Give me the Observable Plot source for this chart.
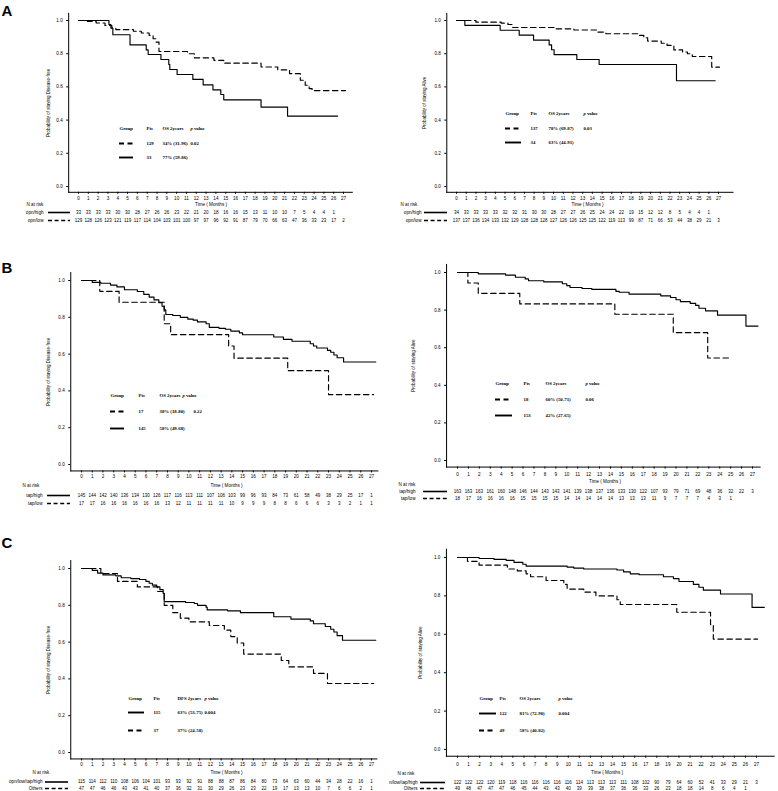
<!DOCTYPE html>
<html><head><meta charset="utf-8">
<script src="https://cdn.jsdelivr.net/npm/d3@7"></script>
<script src="https://cdn.jsdelivr.net/npm/@observablehq/plot@0.6"></script>
<style>
body{margin:0;background:#fff;}
#fig{position:relative;width:778px;height:791px;overflow:hidden;background:#fff;}
.pan{position:absolute;overflow:hidden;}
</style></head><body><div id="fig"></div>
<script>
// ---------- tick labels ----------
const monthTicks = d3.range(0, 28);
const probTicks = [0, 0.2, 0.4, 0.6, 0.8, 1.0];

// ---------- Panel A left (DFS, opn) ----------
const aL_t_high = [0, 3.1, 3.3, 3.5, 5.25, 6.9, 7.1, 8.4, 9.2, 9.3, 10.05, 11.65, 12.7, 13.7, 14.5, 14.8, 18.6, 21.3, 26.4];
const aL_s_high = [1, .976, .954, .914, .853, .823, .795, .765, .735, .705, .675, .645, .612, .582, .554, .522, .478, .424, .424];
const aL_t_low = [0, 0.9, 1.8, 2.7, 3.4, 3.8, 5.6, 6.4, 7.2, 7.6, 7.9, 8.2, 11.1, 11.8, 13.8, 14.8, 18.6, 20.3, 21.5, 22.6, 23.1, 23.5, 23.8, 27.2];
const aL_s_low = [1, .995, .985, .97, .955, .945, .935, .925, .91, .89, .87, .813, .80, .775, .76, .743, .72, .703, .68, .64, .61, .59, .578, .578];
const aL_risk_high = [33,33,33,33,30,30,28,27,26,26,23,22,21,20,18,16,16,15,13,11,10,10,7,5,4,4,1];
const aL_risk_low = [129,128,126,123,121,119,117,114,104,103,101,100,97,97,96,92,91,87,79,70,66,63,47,36,33,23,17,2];

// ---------- Panel A right (OS, opn) ----------
const aR_t_high = [0, 0.86, 4.5, 6.46, 7.94, 9.55, 9.8, 10.06, 12.4, 14.7, 22.67, 26.66];
const aR_s_high = [1, .971, .941, .912, .882, .853, .824, .794, .765, .735, .637, .637];
const aR_t_low = [0, 2.0, 4.6, 5.3, 5.8, 10.1, 12.1, 14.5, 15.4, 18.7, 19.3, 19.7, 21.1, 21.7, 22.4, 23.3, 23.8, 24.3, 26.3, 27.1];
const aR_s_low = [1, .99, .984, .976, .958, .95, .943, .93, .92, .91, .896, .876, .863, .85, .823, .81, .80, .783, .719, .719];
const aR_risk_high = [34,33,33,33,33,32,32,31,30,30,28,27,27,26,25,24,24,22,19,15,12,12,8,5,4,4,1];
const aR_risk_low = [137,137,136,134,133,132,129,128,128,128,127,126,126,125,125,122,119,113,99,87,71,66,53,44,38,29,21,3];

// ---------- Panel B left (DFS, tap) ----------
const bL_t_high = [0, 1.0, 1.8, 2.7, 3.3, 4.0, 5.2, 5.8, 6.3, 6.75, 7.2, 7.5, 7.7, 7.85, 8.5, 9.2, 9.9, 10.4, 10.8, 11.6, 11.9, 12.8, 13.4, 13.9, 14.7, 15.0, 17.9, 18.8, 19.6, 21.3, 21.6, 21.9, 22.9, 23.2, 23.5, 23.8, 24.4, 27.4];
const bL_s_high = [1, .99, .985, .975, .965, .95, .94, .925, .91, .895, .88, .86, .84, .815, .81, .80, .79, .785, .775, .765, .745, .74, .735, .725, .715, .705, .693, .68, .67, .656, .644, .633, .62, .61, .595, .58, .557, .557];
const bL_t_low = [0, 1.7, 3.5, 7.7, 8.3, 13.7, 14.2, 19.2, 23.0, 27.2];
const bL_s_low = [1, .941, .882, .765, .706, .644, .578, .51, .38, .38];
const bL_risk_high = [145,144,142,140,136,134,130,126,117,116,113,111,107,106,103,99,96,93,84,73,61,58,49,38,29,25,17,1];
const bL_risk_low = [17,17,16,16,16,16,16,16,13,12,11,11,11,11,10,9,9,9,8,8,6,6,6,3,3,2,1,1];

// ---------- Panel B right (OS, tap) ----------
const bR_t_high = [0, 1.9, 4.4, 5.3, 6.2, 6.5, 7.9, 9.6, 10.0, 10.3, 11.4, 12.3, 14.5, 14.8, 15.7, 18.6, 19.5, 20.0, 20.4, 21.3, 21.8, 22.1, 22.7, 23.8, 26.4, 27.5];
const bR_s_high = [1, .993, .986, .975, .966, .956, .95, .94, .93, .92, .915, .91, .90, .895, .885, .876, .867, .855, .845, .836, .825, .81, .796, .773, .715, .715];
const bR_t_low = [0, 0.95, 1.9, 5.7, 14.4, 19.75, 22.9, 25.0];
const bR_s_low = [1, .944, .889, .833, .778, .68, .545, .545];
const bR_risk_high = [163,163,163,161,160,148,146,144,143,143,141,139,138,137,136,133,130,122,107,93,79,71,69,48,36,32,22,3];
const bR_risk_low = [18,17,16,16,16,16,15,15,15,15,14,14,14,14,14,13,13,13,11,9,7,7,7,4,3,1];

// ---------- Panel C left (DFS, combined) ----------
const cL_t_high = [0, 1.0, 1.5, 2.0, 3.2, 3.7, 4.6, 5.4, 6.0, 6.3, 6.6, 7.0, 7.3, 7.6, 7.7, 9.7, 10.5, 10.8, 11.6, 11.7, 13.6, 14.8, 17.9, 19.5, 21.3, 21.6, 22.7, 23.2, 23.5, 23.8, 24.3, 27.4];
const cL_s_high = [1, .99, .975, .965, .96, .95, .945, .94, .93, .92, .91, .90, .885, .865, .82, .815, .81, .80, .79, .775, .77, .76, .738, .725, .715, .70, .685, .67, .655, .635, .61, .61];
const cL_t_low = [0, 1.8, 3.35, 5.2, 7.1, 7.7, 8.5, 9.2, 10.0, 11.9, 13.3, 13.9, 14.5, 15.1, 18.6, 19.3, 21.6, 22.9, 27.2];
const cL_s_low = [1, .973, .93, .90, .875, .80, .76, .73, .71, .69, .665, .63, .595, .535, .50, .465, .43, .375, .375];
const cL_risk_high = [115,114,112,110,108,106,104,101,93,93,92,91,88,88,87,86,84,80,73,64,63,60,44,34,28,22,16,1];
const cL_risk_low = [47,47,46,46,43,43,41,40,37,36,32,31,30,29,26,23,23,22,19,17,13,13,10,7,6,6,2,1];

// ---------- Panel C right (OS, combined) ----------
const cR_t_high = [0, 1.95, 3.3, 4.4, 5.1, 5.9, 6.2, 9.9, 10.5, 11.4, 14.4, 15.0, 15.6, 16.4, 18.6, 19.5, 20.0, 21.3, 21.8, 22.2, 23.75, 26.6, 27.7];
const cR_s_high = [1, .995, .99, .985, .975, .965, .955, .95, .945, .94, .935, .925, .915, .91, .90, .89, .875, .86, .845, .83, .81, .74, .74];
const cR_t_low = [0, 0.9, 1.95, 4.5, 5.4, 6.2, 6.6, 8.0, 9.6, 9.9, 11.4, 12.5, 14.4, 14.7, 19.8, 22.85, 23.1, 27.1];
const cR_s_low = [1, .98, .96, .94, .93, .915, .90, .88, .86, .835, .82, .80, .78, .755, .715, .65, .575, .575];
const cR_risk_high = [122,122,122,120,119,118,116,116,116,116,116,114,113,113,113,111,108,102,90,79,64,60,52,41,33,29,21,3];
const cR_risk_low = [49,48,47,47,47,46,45,44,43,43,40,39,39,38,37,36,36,33,26,23,18,18,14,8,6,4,1];

// ---------- texts ----------
const yTitleDFS = "Probability of staying Disease-free";
const yTitleOS = "Probability of staying Alive";
const xTitle = "Time ( Months )";
const natRisk = "N at risk";
const groupsA = ["opn/high", "opn/low"];
const groupsB = ["tap/high", "tap/low"];
const groupsC = ["opn/low/tap/high", "Others"];
const legHeadOS = ["Group", "Pts", "OS 2years"];
const legHeadDFS = ["Group", "Pts", "DFS 2years"];
const legRowsAL = [["129", "34% (31-96)", "0.02"], ["33", "77% (59-86)", ""]];
const legRowsAR = [["137", "78% (69-87)", "0.03"], ["34", "63% (44-91)", ""]];
const legRowsBL = [["17", "38% (18-80)", "0.22"], ["145", "58% (49-68)", ""]];
const legRowsBR = [["18", "60% (50-71)", "0.06"], ["153", "42% (27-65)", ""]];
const legRowsCL = [["115", "63% (53-75)", "0.004"], ["37", "37% (24-58)", ""]];
const legRowsCR = [["122", "81% (72-90)", "0.004"], ["49", "58% (40-82)", ""]];

// ---------- drawing ----------
const DASH = "5.5,3.5";
const SANS = "'Liberation Sans', Arial, sans-serif";
const SERIF = "'Liberation Serif', 'Times New Roman', serif";
const fig = document.getElementById("fig");

function drawPanel(p) {
  const g = p.geom;
  const pxm = (g.x27 - g.x0) / 27, pyu = g.y0 - g.y1;
  const X = px => (px - g.x0) / pxm;
  const Y = py => (g.y0 - py) / pyu;
  const xd = [-1, g.xMax], yd = [-0.035, 1.043];
  const fl = g.x0 + xd[0] * pxm, fr = g.x0 + xd[1] * pxm;
  const ft = g.y0 - yd[1] * pyu, fb = g.y0 - yd[0] * pyu;
  const marks = [];
  const txt = (s, px, py, o = {}) => Plot.text([s], Object.assign({x: X(px), y: Y(py), text: d => d, fontSize: 4.6, fontFamily: SANS, textAnchor: "start", lineAnchor: "middle", fill: "black"}, o));

  // survival curves
  for (const cv of p.curves) {
    const pts = cv.t.map((t, i) => ({t, s: cv.s[i]}));
    marks.push(Plot.line(pts, {x: "t", y: "s", curve: "step-after", stroke: "black", strokeWidth: 1.15, strokeDasharray: cv.dashed ? DASH : undefined}));
  }
  // y title
  marks.push(Plot.text([p.yTitle], {frameAnchor: "left", dx: -g.ylOff, rotate: -90, text: d => d, fontSize: 4.5, fontFamily: SANS, textAnchor: "middle", lineAnchor: "middle"}));
  // x title
  marks.push(Plot.text([xTitle], {x: 13.5, y: Y(g.timeY), text: d => d, fontSize: 4.6, fontFamily: SANS, textAnchor: "middle", lineAnchor: "middle"}));
  // at risk
  marks.push(txt(natRisk, g.natX, g.natY));
  p.curves.forEach((cv, k) => {
    const py = g.rowY[k];
    marks.push(txt(cv.label, g.labR, py, {textAnchor: "end"}));
    marks.push(Plot.ruleY([Y(py)], {x1: X(g.ln[0]), x2: X(g.ln[1]), stroke: "black", strokeWidth: 1.6, strokeDasharray: cv.dashed ? "4,2.6" : undefined}));
    const rows = cv.risk.map((n, i) => ({m: monthTicks[i], n}));
    marks.push(Plot.text(rows, {x: "m", y: () => Y(py), text: "n", fontSize: 4.5, fontFamily: SANS, textAnchor: "middle", lineAnchor: "middle"}));
  });
  // legend inside panel
  const L = p.leg;
  const lt = (s, px, py, o = {}) => txt(s, px, py, Object.assign({fontFamily: SERIF, fontWeight: "bold", fontSize: 4.8}, o));
  marks.push(lt(p.legHead[0], L.cols[0], L.hy));
  marks.push(lt(p.legHead[1], L.cols[1], L.hy));
  marks.push(lt(p.legHead[2], L.cols[2], L.hy));
  marks.push(lt("p", L.cols[3], L.hy, {fontStyle: "italic"}));
  marks.push(lt("value", L.cols[3] + 3.4, L.hy));
  p.legRows.forEach((r, k) => {
    const py = L.ry[k];
    marks.push(Plot.ruleY([Y(py)], {x1: X(L.cols[0]), x2: X(L.cols[0] + L.lw), stroke: "black", strokeWidth: 1.9, strokeDasharray: r.dashed ? "5,3.5" : undefined}));
    marks.push(lt(r.v[0], L.cols[1], py));
    marks.push(lt(r.v[1], L.cols[2], py));
    if (r.v[2]) marks.push(lt(r.v[2], L.pv ?? L.cols[3], py));
  });
  // panel letter
  if (p.letter) marks.push(txt(p.letter, 1, g.letterY, {fontSize: 15, fontWeight: "bold", lineAnchor: "bottom"}));

  const plot = Plot.plot({
    width: g.W, height: g.H,
    marginLeft: fl - g.sx, marginRight: g.sx + g.W - fr,
    marginTop: ft - g.sy, marginBottom: g.sy + g.H - fb,
    style: `font-family: ${SANS}; font-size: 4.6px; color: black; background: white;`,
    x: {domain: xd, ticks: monthTicks, tickSize: 2, tickPadding: g.tp, tickFormat: d => String(d), line: true, label: null},
    y: {domain: yd, ticks: probTicks, tickSize: 2, tickPadding: 4, tickFormat: d => d.toFixed(1), line: true, label: null},
    marks
  });
  const div = document.createElement("div");
  div.className = "pan";
  div.style.left = g.sx + "px"; div.style.top = g.sy + "px";
  div.style.width = g.W + "px"; div.style.height = g.H + "px";
  div.appendChild(plot);
  fig.appendChild(div);
}

const panels = [
  { letter: "A", yTitle: yTitleDFS, legHead: legHeadOS,
    curves: [
      {label: groupsA[0], dashed: false, t: aL_t_high, s: aL_s_high, risk: aL_risk_high},
      {label: groupsA[1], dashed: true, t: aL_t_low, s: aL_s_low, risk: aL_risk_low}],
    legRows: [{dashed: true, v: legRowsAL[0]}, {dashed: false, v: legRowsAL[1]}],
    geom: {sx: 0, sy: 0, W: 389, H: 255, x0: 78, x27: 343, y1: 20, y0: 186, xMax: 27.9, tp: 2.7, ylOff: 20,
      timeY: 204, natX: 26, natY: 204, rowY: [212, 220], labR: 43, ln: [48, 70], letterY: 15},
    leg: {cols: [119, 146, 162, 190], hy: 128, ry: [143, 157], lw: 14} },
  { yTitle: yTitleOS, legHead: legHeadOS,
    curves: [
      {label: groupsA[0], dashed: false, t: aR_t_high, s: aR_s_high, risk: aR_risk_high},
      {label: groupsA[1], dashed: true, t: aR_t_low, s: aR_s_low, risk: aR_risk_low}],
    legRows: [{dashed: true, v: legRowsAR[0]}, {dashed: false, v: legRowsAR[1]}],
    geom: {sx: 389, sy: 0, W: 389, H: 255, x0: 456, x27: 718, y1: 20, y0: 186, xMax: 28.5, tp: 2.7, ylOff: 22,
      timeY: 204, natX: 400, natY: 204, rowY: [212, 220], labR: 421, ln: [424, 447]},
    leg: {cols: [505, 530, 548, 583], hy: 113, ry: [128, 142], lw: 16} },
  { letter: "B", yTitle: yTitleDFS, legHead: legHeadOS,
    curves: [
      {label: groupsB[0], dashed: false, t: bL_t_high, s: bL_s_high, risk: bL_risk_high},
      {label: groupsB[1], dashed: true, t: bL_t_low, s: bL_s_low, risk: bL_risk_low}],
    legRows: [{dashed: true, v: legRowsBL[0]}, {dashed: false, v: legRowsBL[1]}],
    geom: {sx: 0, sy: 255, W: 389, H: 270, x0: 81, x27: 371, y1: 280, y0: 464, xMax: 27.6, tp: 1.9, ylOff: 22,
      timeY: 485, natX: 22, natY: 485, rowY: [495, 503], labR: 42, ln: [47, 70], letterY: 272},
    leg: {cols: [110, 138, 159, 182], pv: 193, hy: 395, ry: [411, 428], lw: 14} },
  { yTitle: yTitleOS, legHead: legHeadOS,
    curves: [
      {label: groupsB[0], dashed: false, t: bR_t_high, s: bR_s_high, risk: bR_risk_high},
      {label: groupsB[1], dashed: true, t: bR_t_low, s: bR_s_low, risk: bR_risk_low}],
    legRows: [{dashed: true, v: legRowsBR[0]}, {dashed: false, v: legRowsBR[1]}],
    geom: {sx: 389, sy: 255, W: 389, H: 270, x0: 457, x27: 752, y1: 272, y0: 460, xMax: 27.7, tp: 3.8, ylOff: 33,
      timeY: 481, natX: 398, natY: 484, rowY: [491, 498], labR: 415, ln: [423, 447]},
    leg: {cols: [495, 523, 545, 585], hy: 383, ry: [399, 415], lw: 17} },
  { letter: "C", yTitle: yTitleDFS, legHead: legHeadDFS,
    curves: [
      {label: groupsC[0], dashed: false, t: cL_t_high, s: cL_s_high, risk: cL_risk_high},
      {label: groupsC[1], dashed: true, t: cL_t_low, s: cL_s_low, risk: cL_risk_low}],
    legRows: [{dashed: false, v: legRowsCL[0]}, {dashed: true, v: legRowsCL[1]}],
    geom: {sx: 0, sy: 525, W: 389, H: 266, x0: 81, x27: 371, y1: 568, y0: 752, xMax: 27.5, tp: 1.9, ylOff: 22,
      timeY: 772, natX: 32, natY: 772, rowY: [781.5, 788], labR: 42, ln: [45, 68], letterY: 547},
    leg: {cols: [128, 153, 177, 204], hy: 698, ry: [712, 730], lw: 16} },
  { yTitle: yTitleOS, legHead: legHeadOS,
    curves: [
      {label: groupsC[0], dashed: false, t: cR_t_high, s: cR_s_high, risk: cR_risk_high},
      {label: groupsC[1], dashed: true, t: cR_t_low, s: cR_s_low, risk: cR_risk_low}],
    legRows: [{dashed: false, v: legRowsCR[0]}, {dashed: true, v: legRowsCR[1]}],
    geom: {sx: 389, sy: 525, W: 389, H: 266, x0: 457, x27: 756, y1: 557, y0: 749, xMax: 28.6, tp: 4.6, ylOff: 26,
      timeY: 772, natX: 397, natY: 773, rowY: [782, 788], labR: 417, ln: [420, 445]},
    leg: {cols: [479, 499, 519, 558], hy: 698, ry: [713, 730], lw: 17} }
];

panels.forEach(drawPanel);
</script>
</body></html>
